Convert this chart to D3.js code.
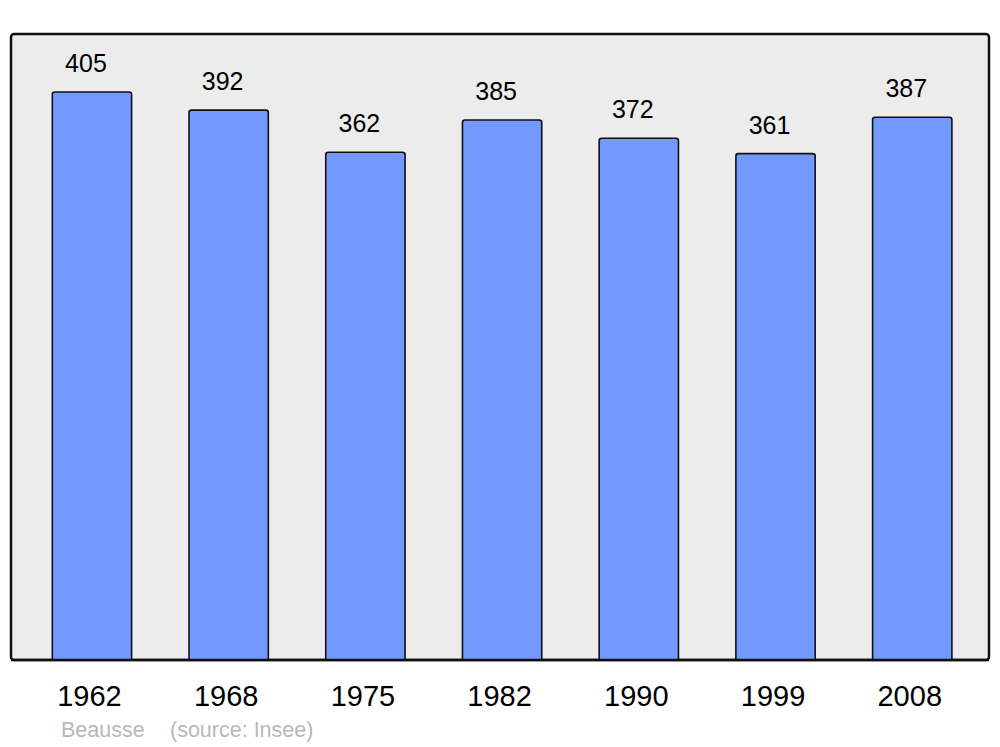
<!DOCTYPE html>
<html><head><meta charset="utf-8">
<script src="https://cdn.jsdelivr.net/npm/d3@7"></script>
<style>html,body{margin:0;padding:0;background:#fff;}svg{display:block;}</style>
</head><body>
<script>
const years = ["1962","1968","1975","1982","1990","1999","2008"];
const population = [405,392,362,385,372,361,387];
const footerName = "Beausse";
const footerSource = "(source: Insee)";

const W = 1000, H = 747;
const svg = d3.select("body").append("svg").attr("width", W).attr("height", H);
const font = "'Liberation Sans', Arial, sans-serif";

const plot = {left: 11, top: 34, right: 989, bottom: 660};

const x = d3.scaleBand().domain(years).range([23.6, 980.6]).paddingInner(0.42).paddingOuter(0.21);
const y = d3.scaleLinear().domain([0, 446.3]).range([plot.bottom, plot.top]);

svg.append("rect")
  .attr("x", plot.left).attr("y", plot.top)
  .attr("width", plot.right - plot.left).attr("height", plot.bottom - plot.top)
  .attr("rx", 3).attr("ry", 3)
  .attr("fill", "#ececec").attr("stroke", "#111").attr("stroke-width", 2.5);

const data = years.map((yr, i) => ({yr, v: population[i]}));

function barPath(d) {
  const x0 = x(d.yr), x1 = x0 + x.bandwidth(), y0 = y(d.v), yb = y(0), r = 2.5;
  return `M${x0},${yb} L${x0},${y0 + r} Q${x0},${y0} ${x0 + r},${y0} L${x1 - r},${y0} Q${x1},${y0} ${x1},${y0 + r} L${x1},${yb}`;
}

svg.append("g").selectAll("path").data(data).join("path")
  .attr("d", barPath)
  .attr("fill", "#7399ff").attr("stroke", "#111").attr("stroke-width", 1.6);

svg.append("line").attr("x1", plot.left).attr("x2", plot.right)
  .attr("y1", plot.bottom).attr("y2", plot.bottom)
  .attr("stroke", "#111").attr("stroke-width", 2.5);

svg.append("g").selectAll("text").data(data).join("text")
  .attr("x", d => x(d.yr) + x.bandwidth() / 2 - 6)
  .attr("y", d => y(d.v) - 20)
  .attr("text-anchor", "middle")
  .attr("font-family", font).attr("font-size", 25).attr("fill", "#000")
  .text(d => d.v);

const xAxis = d3.axisBottom(x).tickSize(0).tickPadding(0);
const gx = svg.append("g").attr("transform", `translate(0,${plot.bottom})`).call(xAxis);
gx.select(".domain").remove();
gx.selectAll("text")
  .attr("y", 46).attr("dy", 0).attr("dx", -2.5)
  .attr("font-family", font).attr("font-size", 29).attr("fill", "#000");

svg.append("text").attr("x", 61).attr("y", 737)
  .attr("font-family", font).attr("font-size", 21.5).attr("fill", "#b8b8b8")
  .text(footerName);
svg.append("text").attr("x", 170).attr("y", 737)
  .attr("font-family", font).attr("font-size", 21.5).attr("fill", "#b8b8b8")
  .text(footerSource);
</script>
</body></html>
